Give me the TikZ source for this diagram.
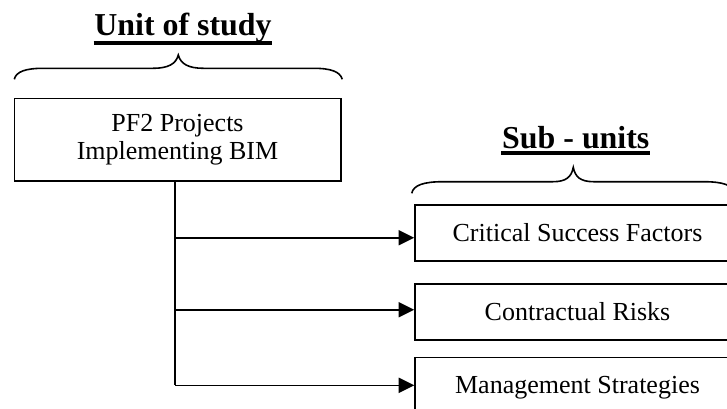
\documentclass[tikz,border=0pt]{standalone}
\usepackage{fontspec}
\setmainfont{Liberation Serif}
\usetikzlibrary{arrows.meta}
\begin{document}
\begin{tikzpicture}[x=1pt,y=-1pt,
  line width=1.6pt,
  mainbox/.style={draw, line width=1.6pt, inner sep=0pt, align=center,
    minimum width=326.4pt, minimum height=82.4pt,
    font=\fontsize{26}{28.3}\selectfont},
  subbox/.style={draw, line width=1.6pt, inner sep=0pt,
    minimum width=325pt, minimum height=56pt,
    text height=17pt, text depth=0pt,
    font=\fontsize{26}{28.3}\selectfont},
  heading/.style={font=\bfseries\fontsize{31.9}{34}\selectfont,
    inner sep=0pt, anchor=base},
  rule/.style={line width=3.8pt},
  feed/.style={-{Triangle[length=15.5pt,width=15pt]}, line width=1.6pt},
  bracket/.style={line width=1.6pt}]
\useasboundingbox (0,0) rectangle (727,408);
\clip (0,0) rectangle (727,408);

% headings with their underlines
\node[heading] (unit) at (183,35) {Unit of study};
\draw[rule] ([yshift=-8.2pt]unit.base west) -- ([yshift=-8.2pt]unit.base east);
\node[heading] (subs) at (575.8,148) {Sub - units};
\draw[rule] ([yshift=-5pt]subs.base west) -- ([yshift=-5pt]subs.base east);

% curly brackets under the headings
\draw[bracket] (14.3,79.3) .. controls (16,71.5) and (26,68.3) .. (43,68.3)
  -- (153,68.3) .. controls (168,68.3) and (176,64) .. (178.3,55)
  .. controls (180.6,64) and (188.6,68.3) .. (203.6,68.3)
  -- (313.6,68.3) .. controls (330.6,68.3) and (340,71.5) .. (342.3,79.3);
\draw[bracket] (411.7,193.3) .. controls (413.5,185) and (424,181.7) .. (443,181.7)
  -- (553,181.7) .. controls (566,181.7) and (571.5,177) .. (573.3,167.3)
  .. controls (575.1,177) and (580.6,181.7) .. (593.6,181.7)
  -- (703.6,181.7) .. controls (722.6,181.7) and (733.1,185) .. (734.9,193.3);

% boxes
\node[mainbox] (bim) at (177.5,139.5) {PF2 Projects\\Implementing BIM};
\node[subbox] (csf) at (577.5,233.2) {Critical Success Factors};
\node[subbox] (risk) at (577.5,312.2) {Contractual Risks};
\node[subbox] (mgmt) at (577.5,385.3) {Management Strategies};

% trunk and branches
\coordinate (j1) at (175,237.7);
\coordinate (j2) at (175,309.7);
\coordinate (j3) at (175,385.3);
\draw (bim.south -| j3) -- (j3);
\draw[feed] (j1) -- (j1 -| csf.west);
\draw[feed] (j2) -- (j2 -| risk.west);
\draw[feed] (j3) -- (j3 -| mgmt.west);
\end{tikzpicture}
\end{document}
